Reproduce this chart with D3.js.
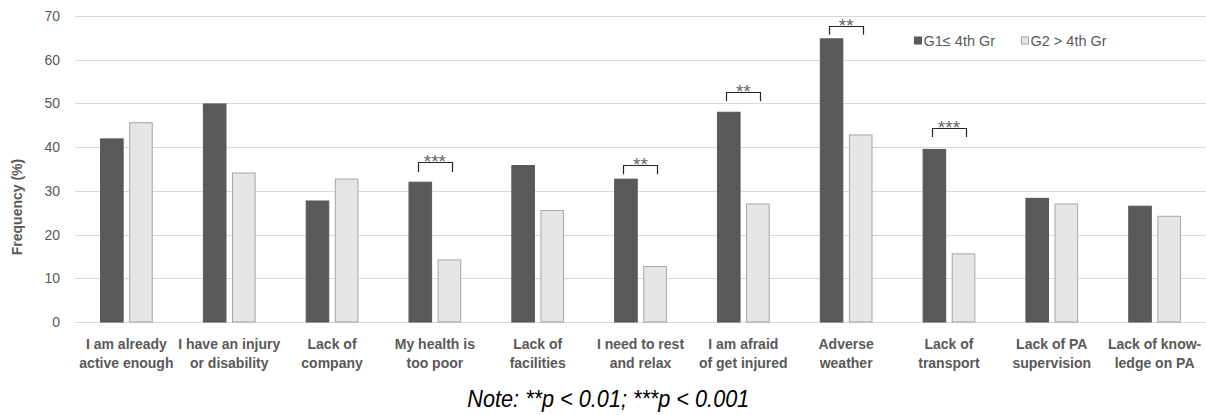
<!DOCTYPE html>
<html>
<head>
<meta charset="utf-8">
<script src="https://cdn.jsdelivr.net/npm/d3@7"></script>
<style>
  html, body { margin: 0; padding: 0; background: #fff; }
  svg { display: block; font-family: "Liberation Sans", Arial, sans-serif; }
</style>
</head>
<body>
<svg id="chart" width="1207" height="415"></svg>
<script>
// ---- data ----
const categories = [
  ["I am already", "active enough"],
  ["I have an injury", "or disability"],
  ["Lack of", "company"],
  ["My health is", "too poor"],
  ["Lack of", "facilities"],
  ["I need to rest", "and relax"],
  ["I am afraid", "of get injured"],
  ["Adverse", "weather"],
  ["Lack of", "transport"],
  ["Lack of PA", "supervision"],
  ["Lack of know-", "ledge on PA"]
];
const seriesNames = ["G1\u2264 4th Gr", "G2 > 4th Gr"];
const g1Values = [42.0, 50.0, 27.8, 32.1, 35.9, 32.8, 48.1, 64.9, 39.6, 28.4, 26.6];
const g2Values = [45.7, 34.2, 32.8, 14.3, 25.6, 12.8, 27.1, 42.9, 15.7, 27.1, 24.3];
const yTicks = [0, 10, 20, 30, 40, 50, 60, 70];
// significance brackets: category index, stars, bracket top value, bracket bottom value
const sigIndex = [3, 5, 6, 7, 8];
const sigStars = ["***", "**", "**", "**", "***"];
const sigTop = [36.5, 36.0, 52.6, 67.7, 44.3];
const sigBottom = [34.3, 33.8, 50.5, 65.7, 42.3];
const noteText = "Note: **p < 0.01; ***p < 0.001";
const yTitle = "Frequency (%)";

(function () {
// ---- layout ----
const svg = d3.select("#chart");
const plotLeft = 75, plotRight = 1206, plotTop = 16, plotBottom = 322;
const textGray = "#595959";

const keys = categories.map((d, i) => i);
const x0 = d3.scaleBand().domain(keys).range([plotLeft, plotRight]).paddingInner(0).paddingOuter(0);
const x1 = d3.scaleBand().domain([0, 1]).range([0, x0.bandwidth()]).paddingInner(0.19).paddingOuter(0.86);
const y = d3.scaleLinear().domain([0, 70]).range([plotBottom, plotTop]);

// gridlines
svg.append("g")
  .selectAll("line")
  .data(yTicks)
  .join("line")
  .attr("x1", plotLeft).attr("x2", plotRight)
  .attr("y1", d => Math.round(y(d)) + 0.5).attr("y2", d => Math.round(y(d)) + 0.5)
  .attr("stroke", "#d9d9d9").attr("stroke-width", 1);

// y axis labels
const yAxis = d3.axisLeft(y).tickValues(yTicks).tickSize(0).tickPadding(15);
const yg = svg.append("g").attr("transform", `translate(${plotLeft},0)`).call(yAxis);
yg.select(".domain").remove();
yg.selectAll("text")
  .attr("fill", textGray)
  .style("font-size", "14px")
  .style("font-family", "Liberation Sans, Arial, sans-serif");

// y title
svg.append("text")
  .attr("transform", "translate(22,207) rotate(-90)")
  .attr("text-anchor", "middle")
  .attr("fill", textGray)
  .style("font-size", "14px")
  .style("font-weight", "bold")
  .text(yTitle);

// bars
const colors = ["#595959", "#e7e6e6"];
const strokes = ["#595959", "#a6a6a6"];
const seriesValues = [g1Values, g2Values];
const barG = svg.append("g");
seriesValues.forEach((vals, s) => {
  barG.selectAll(".bar" + s)
    .data(vals)
    .join("rect")
    .attr("class", "bar" + s)
    .attr("x", (d, i) => x0(i) + x1(s) + 0.5)
    .attr("width", x1.bandwidth() - 1)
    .attr("y", d => y(d) + 0.5)
    .attr("height", d => y(0) - y(d) - 0.5)
    .attr("fill", colors[s])
    .attr("stroke", strokes[s])
    .attr("stroke-width", 1);
});

// x category labels
const lab = svg.append("g");
categories.forEach((lines, i) => {
  const t = lab.append("text")
    .attr("text-anchor", "middle")
    .attr("fill", textGray)
    .style("font-size", "14px")
    .style("font-weight", "bold");
  lines.forEach((ln, k) => {
    t.append("tspan")
      .attr("x", x0(i) + x0.bandwidth() / 2)
      .attr("y", 349 + k * 18.5)
      .text(ln);
  });
});

// significance brackets
const sigG = svg.append("g");
sigIndex.forEach((ci, k) => {
  const cx = x0(ci) + x0.bandwidth() / 2;
  const xa = Math.round(cx - 17) + 0.5, xb = Math.round(cx + 17) + 0.5;
  const yt = Math.round(y(sigTop[k])) + 0.5, yb = y(sigBottom[k]);
  sigG.append("path")
    .attr("d", `M${xa},${yb}V${yt}H${xb}V${yb}`)
    .attr("fill", "none")
    .attr("stroke", "#262626")
    .attr("stroke-width", 1.2);
  sigG.append("text")
    .attr("x", cx)
    .attr("y", yt + 5)
    .attr("text-anchor", "middle")
    .attr("fill", "#666666")
    .style("font-size", "19px")
    .text(sigStars[k]);
});

// legend
const legX = [914.5, 1021.5];
const legG = svg.append("g");
seriesNames.forEach((name, s) => {
  legG.append("rect")
    .attr("x", legX[s]).attr("y", 37)
    .attr("width", 7).attr("height", 7)
    .attr("fill", colors[s])
    .attr("stroke", strokes[s]).attr("stroke-width", 1);
  legG.append("text")
    .attr("x", legX[s] + 9).attr("y", 46)
    .attr("fill", textGray)
    .style("font-size", "14.5px")
    .text(name);
});

// note
svg.append("text")
  .attr("x", 608.3).attr("y", 406.5)
  .attr("text-anchor", "middle")
  .attr("fill", "#000")
  .style("font-size", "24px")
  .style("font-style", "italic")
  .attr("textLength", 282)
  .attr("lengthAdjust", "spacingAndGlyphs")
  .text(noteText);
})();
</script>
</body>
</html>
